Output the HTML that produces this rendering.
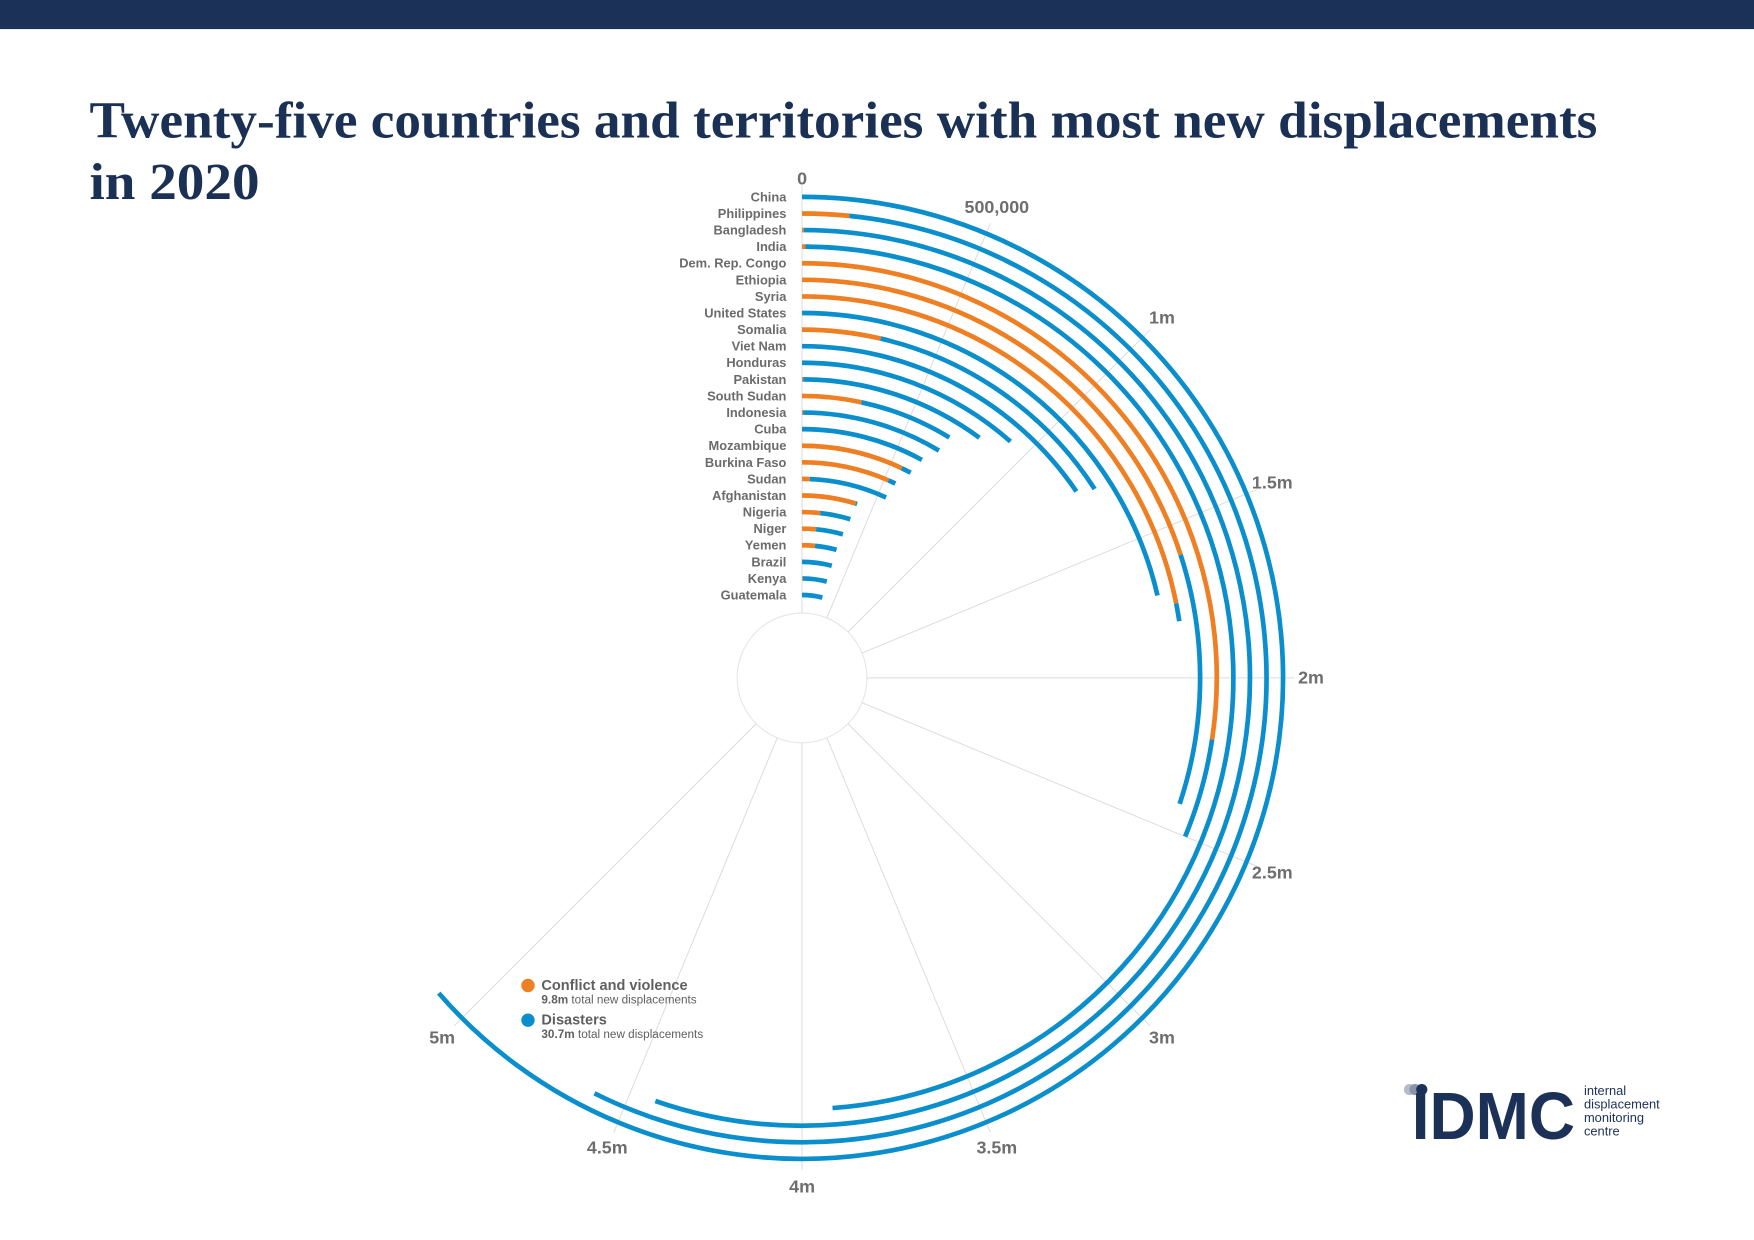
<!DOCTYPE html>
<html><head><meta charset="utf-8">
<style>
html,body{margin:0;padding:0;background:#fff;}
svg{display:block;}
text{font-family:"Liberation Sans",sans-serif;}
text.serif{font-family:"Liberation Serif",serif;}
</style></head>
<body>
<svg id="chart" width="1754" height="1240" viewBox="0 0 1568 1108.5" xmlns="http://www.w3.org/2000/svg">
  <rect x="0" y="0" width="1568" height="1108.5" fill="#ffffff"/>
  <rect x="0" y="0" width="1568" height="26" fill="#1c3157"/>
  <text class="serif" x="80" y="123" font-weight="bold" font-size="46" fill="#1b3055" textLength="1348" lengthAdjust="spacingAndGlyphs">Twenty-five countries and territories with most new displacements</text>
  <text class="serif" x="80" y="178" font-weight="bold" font-size="46" fill="#1b3055" textLength="152" lengthAdjust="spacingAndGlyphs">in 2020</text>
  <g id="grid"></g>
  <g id="bars"></g>
  <g id="labels"></g>
  <g id="ticks"></g>

  <g>
    <circle cx="472" cy="881" r="6" fill="#ee7f22"/>
    <text x="484" y="885" font-size="13" font-weight="bold" fill="#5f5f5f">Conflict and violence</text>
    <text x="484" y="897" font-size="10.5" fill="#5f5f5f"><tspan font-weight="bold">9.8m</tspan> total new displacements</text>
    <circle cx="472" cy="912" r="6" fill="#0a8fcc"/>
    <text x="484" y="916" font-size="13" font-weight="bold" fill="#5f5f5f">Disasters</text>
    <text x="484" y="928" font-size="10.5" fill="#5f5f5f"><tspan font-weight="bold">30.7m</tspan> total new displacements</text>
  </g>

  <g>
    <circle cx="1260" cy="974" r="5" fill="#b5bcc8"/>
    <circle cx="1265" cy="974" r="5" fill="#8894a8"/>
    <circle cx="1271" cy="974" r="5" fill="#1c3157"/>
    <text x="1262" y="1018" font-size="60" font-weight="bold" fill="#1c3157" textLength="146" lengthAdjust="spacingAndGlyphs">IDMC</text>
    <text x="1416" y="979" font-size="11.5" fill="#1c3157">internal</text>
    <text x="1416" y="991" font-size="11.5" fill="#1c3157">displacement</text>
    <text x="1416" y="1003" font-size="11.5" fill="#1c3157">monitoring</text>
    <text x="1416" y="1015" font-size="11.5" fill="#1c3157">centre</text>
  </g>
</svg>
<script>
const countries = ["China","Philippines","Bangladesh","India","Dem. Rep. Congo","Ethiopia","Syria","United States","Somalia","Viet Nam","Honduras","Pakistan","South Sudan","Indonesia","Cuba","Mozambique","Burkina Faso","Sudan","Afghanistan","Nigeria","Niger","Yemen","Brazil","Kenya","Guatemala"];
const conflict = [0, 0.13, 0.005, 0.01, 2.19, 1.6, 1.75, 0, 0.29, 0, 0, 0.005, 0.27, 0.005, 0, 0.565, 0.525, 0.05, 0.38, 0.14, 0.12, 0.125, 0, 0.01, 0];
const disasters = [5.09, 4.46, 4.42, 3.9, 0.31, 0.81, 0.06, 1.71, 0.98, 1.24, 0.92, 0.805, 0.43, 0.685, 0.64, 0.055, 0.045, 0.505, 0.01, 0.236, 0.233, 0.21, 0.33, 0.31, 0.315];
const tickValues = [0, 0.5, 1, 1.5, 2, 2.5, 3, 3.5, 4, 4.5, 5];
const tickLabels = ["0","500,000","1m","1.5m","2m","2.5m","3m","3.5m","4m","4.5m","5m"];

const NS = "http://www.w3.org/2000/svg";
const cx = 717, cy = 606, rInner = 58, rOuter = 430, rStep = 14.83, maxVal = 8;
function angle(v){ return v / maxVal * 2 * Math.PI; }
function radius(i){ return rOuter - i * rStep; }
function pt(r, a){ return [cx + r * Math.sin(a), cy - r * Math.cos(a)]; }
function arcPath(r, v0, v1){
  const a0 = angle(v0), a1 = angle(v1);
  const p0 = pt(r, a0), p1 = pt(r, a1);
  const large = (a1 - a0) > Math.PI ? 1 : 0;
  return "M" + p0[0].toFixed(2) + "," + p0[1].toFixed(2) + " A" + r + "," + r + " 0 " + large + " 1 " + p1[0].toFixed(2) + "," + p1[1].toFixed(2);
}

const grid = document.getElementById("grid");
const inner = document.createElementNS(NS, "circle");


inner.setAttribute("cx", cx); inner.setAttribute("cy", cy); inner.setAttribute("r", rInner);
inner.setAttribute("fill", "none"); inner.setAttribute("stroke", "#e6e6e6"); inner.setAttribute("stroke-width", "1");
grid.appendChild(inner);

const ticks = document.getElementById("ticks");
tickValues.forEach(function(v, k){
  const a = angle(v);
  const p0 = pt(rInner, a), p1 = pt(440, a);
  const ln = document.createElementNS(NS, "line");
  
  
  ln.setAttribute("x1", p0[0]); ln.setAttribute("y1", p0[1]);
  ln.setAttribute("x2", p1[0]); ln.setAttribute("y2", p1[1]);
  ln.setAttribute("stroke", "#dcdcdc"); ln.setAttribute("stroke-width", "0.9");
  grid.appendChild(ln);
  const lp = pt(v === 0 ? 446 : 455, a);
  const t = document.createElementNS(NS, "text");
  
  
  t.setAttribute("x", lp[0]); t.setAttribute("y", lp[1] + 5);
  t.setAttribute("text-anchor", "middle");
  t.setAttribute("font-size", "16"); t.setAttribute("font-weight", "bold"); t.setAttribute("fill", "#6e6e6e");
  t.textContent = tickLabels[k];
  ticks.appendChild(t);
});

const bars = document.getElementById("bars");
const labels = document.getElementById("labels");
countries.forEach(function(c, i){
  const r = radius(i);
  if (conflict[i] > 0){
    const p = document.createElementNS(NS, "path");
    
    
    p.setAttribute("d", arcPath(r, 0, conflict[i]));
    p.setAttribute("fill", "none"); p.setAttribute("stroke", "#ee7f22"); p.setAttribute("stroke-width", "4.2");
    bars.appendChild(p);
  }
  if (disasters[i] > 0){
    const p = document.createElementNS(NS, "path");
    
    
    p.setAttribute("d", arcPath(r, conflict[i], conflict[i] + disasters[i]));
    p.setAttribute("fill", "none"); p.setAttribute("stroke", "#0a8fcc"); p.setAttribute("stroke-width", "4.2");
    bars.appendChild(p);
  }
  const t = document.createElementNS(NS, "text");
  
  
  t.setAttribute("x", 703); t.setAttribute("y", cy - r + 4);
  t.setAttribute("text-anchor", "end");
  t.setAttribute("font-size", "11.5"); t.setAttribute("font-weight", "bold"); t.setAttribute("fill", "#6b6b6b");
  t.textContent = c;
  labels.appendChild(t);
});
</script>
</body></html>
